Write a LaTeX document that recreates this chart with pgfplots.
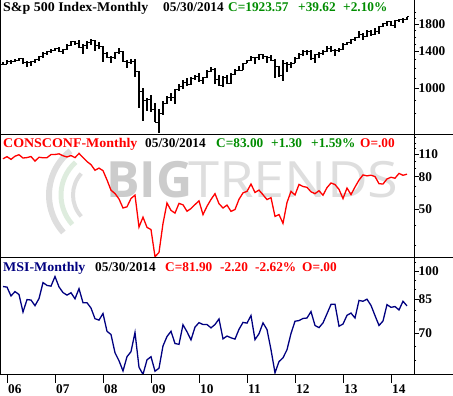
\documentclass[border=0pt]{standalone}
\usepackage{fontspec}
\setmainfont{Liberation Serif}
\setsansfont{Open Sans}
\usepackage{pgfplots}
\pgfplotsset{compat=1.18}
\usepackage{pgfplotstable}

\definecolor{upgreen}{RGB}{0,140,0}
\definecolor{msinavy}{RGB}{0,0,128}
\definecolor{wmA}{RGB}{204,204,204}
\definecolor{wmB}{RGB}{222,222,222}
\definecolor{wmG}{RGB}{222,236,222}

\newcommand\tf{\bfseries\fontsize{13.3}{15}\selectfont}
\newcommand\wide[1]{\scalebox{1.05}[1]{#1}}

\pgfdeclareplotmark{ohlcL}{\pgfpathmoveto{\pgfqpoint{-2.2pt}{0pt}}\pgfpathlineto{\pgfqpoint{0pt}{0pt}}\pgfusepathqstroke}
\pgfdeclareplotmark{ohlcR}{\pgfpathmoveto{\pgfqpoint{0pt}{0pt}}\pgfpathlineto{\pgfqpoint{2.2pt}{0pt}}\pgfusepathqstroke}

\pgfplotstableread{
i o h l c
-1 1249 1275 1246 1248
0 1248 1295 1245 1280
1 1280 1297 1253 1281
2 1281 1310 1268 1295
3 1295 1326 1280 1311
4 1311 1326 1245 1270
5 1270 1290 1220 1270
6 1270 1280 1225 1277
7 1277 1310 1260 1304
8 1304 1340 1290 1336
9 1336 1390 1325 1378
10 1378 1407 1360 1401
11 1401 1431 1385 1418
12 1418 1441 1403 1438
13 1438 1462 1389 1407
14 1407 1438 1364 1421
15 1421 1499 1416 1482
16 1482 1535 1476 1531
17 1531 1541 1484 1503
18 1503 1556 1452 1455
19 1455 1504 1370 1474
20 1474 1539 1439 1527
21 1527 1576 1489 1549
22 1549 1553 1406 1481
23 1481 1523 1435 1468
24 1468 1471 1270 1379
25 1379 1396 1316 1331
26 1331 1341 1257 1323
27 1323 1397 1314 1386
28 1386 1440 1374 1400
29 1400 1405 1272 1280
30 1280 1292 1200 1267
31 1267 1313 1248 1283
32 1283 1303 1107 1166
33 1166 1168 840 969
34 969 1007 741 896
35 896 918 816 903
36 903 943 805 826
37 826 876 735 735
38 735 832 667 798
39 798 888 784 873
40 873 930 866 919
41 919 956 888 919
42 919 996 869 987
43 987 1039 978 1021
44 1021 1080 992 1057
45 1057 1101 1020 1036
46 1036 1113 1029 1096
47 1096 1130 1085 1115
48 1115 1150 1071 1074
49 1074 1112 1045 1104
50 1104 1181 1101 1169
51 1169 1220 1157 1187
52 1187 1206 1040 1089
53 1089 1131 1029 1031
54 1031 1120 1011 1102
55 1102 1129 1040 1049
56 1049 1149 1040 1141
57 1141 1196 1131 1183
58 1183 1227 1173 1181
59 1181 1263 1181 1258
60 1258 1302 1257 1286
61 1286 1345 1284 1327
62 1327 1333 1249 1326
63 1326 1370 1294 1364
64 1364 1371 1312 1345
65 1345 1346 1258 1321
66 1321 1356 1282 1292
67 1292 1308 1101 1219
68 1219 1230 1114 1131
69 1131 1293 1075 1253
70 1253 1277 1159 1247
71 1247 1270 1202 1258
72 1258 1333 1258 1312
73 1312 1378 1312 1366
74 1366 1419 1341 1408
75 1408 1422 1358 1398
76 1398 1415 1292 1310
77 1310 1364 1267 1362
78 1362 1392 1326 1379
79 1379 1426 1355 1407
80 1407 1475 1397 1441
81 1441 1470 1403 1412
82 1412 1434 1343 1416
83 1416 1448 1398 1426
84 1426 1510 1426 1498
85 1498 1530 1485 1515
86 1515 1570 1501 1569
87 1569 1598 1536 1598
88 1598 1687 1581 1631
89 1631 1654 1560 1606
90 1606 1698 1604 1686
91 1686 1710 1627 1633
92 1633 1730 1633 1682
93 1682 1776 1646 1757
94 1757 1814 1747 1806
95 1806 1849 1768 1848
96 1848 1851 1770 1783
97 1783 1868 1738 1859
98 1859 1884 1834 1872
99 1872 1897 1815 1884
100 1884 1925 1860 1924
}\spx

\pgfplotstableread{
i v
-1 103.6
0 106.8
1 102.7
2 107.5
3 109.8
4 104.7
5 105.4
6 107.0
7 100.2
8 105.9
9 105.1
10 105.3
11 110.0
12 110.2
13 111.2
14 108.2
15 106.3
16 108.5
17 105.3
18 111.9
19 105.6
20 99.5
21 95.2
22 87.8
23 90.6
24 87.3
25 76.4
26 65.9
27 62.8
28 58.1
29 51.0
30 51.9
31 58.5
32 61.4
33 38.8
34 44.7
35 38.6
36 37.4
37 25.3
38 26.9
39 40.8
40 54.8
41 49.3
42 47.4
43 54.5
44 53.4
45 48.7
46 50.6
47 53.6
48 56.5
49 46.4
50 52.3
51 57.7
52 62.7
53 54.3
54 51.0
55 53.2
56 48.6
57 49.9
58 57.8
59 63.4
60 64.8
61 72.0
62 63.8
63 66.0
64 61.7
65 57.6
66 59.2
67 45.2
68 46.4
69 40.9
70 55.2
71 64.8
72 61.5
73 71.6
74 69.5
75 68.7
76 64.4
77 62.7
78 65.4
79 61.3
80 68.4
81 73.1
82 71.5
83 66.7
84 58.4
85 68.0
86 61.9
87 69.0
88 76.2
89 82.1
90 81.0
91 81.8
92 80.2
93 72.4
94 72.0
95 77.5
96 79.4
97 78.3
98 83.9
99 81.7
100 83.0
}\conf

\pgfplotstableread{
i v
-1 91.5
0 91.2
1 86.7
2 88.9
3 87.4
4 79.1
5 84.9
6 84.7
7 82.0
8 85.4
9 93.6
10 92.1
11 91.7
12 96.9
13 91.3
14 88.4
15 87.1
16 88.3
17 85.3
18 90.4
19 83.4
20 83.4
21 80.9
22 76.1
23 75.5
24 78.4
25 70.8
26 69.5
27 62.6
28 59.8
29 56.4
30 61.2
31 63.0
32 70.3
33 57.6
34 55.3
35 60.1
36 61.2
37 56.3
38 57.3
39 65.1
40 68.7
41 70.8
42 66.0
43 65.7
44 73.5
45 70.6
46 67.4
47 72.5
48 74.4
49 73.6
50 73.6
51 72.2
52 73.6
53 76.0
54 67.8
55 68.9
56 68.2
57 67.7
58 71.6
59 74.5
60 74.2
61 77.5
62 67.5
63 69.8
64 74.3
65 71.5
66 63.7
67 55.8
68 59.5
69 60.8
70 63.7
71 69.9
72 75.0
73 75.3
74 76.2
75 76.4
76 79.3
77 73.2
78 72.3
79 74.3
80 78.3
81 82.6
82 82.7
83 72.9
84 73.8
85 77.6
86 78.6
87 76.4
88 84.5
89 84.1
90 85.1
91 82.1
92 77.5
93 73.2
94 75.1
95 82.5
96 81.2
97 81.6
98 80.0
99 84.1
100 81.9
}\msi

\pgfplotsset{
  panel/.style={
    scale only axis, width=413.5pt,
    xmin=-1.625, xmax=101.75,
    axis line style={line width=0.8pt},
    ytick pos=right, yticklabel pos=right,
    tick align=outside,
    major tick length=4.5pt, minor tick length=2.3pt,
    every tick/.style={black, line width=0.7pt},
    xtick=\empty,
    yticklabel style={font=\tf, anchor=west, inner sep=0pt},
    anchor=south west,
  }
}

\begin{document}
\begin{tikzpicture}
\path[use as bounding box] (0pt,0pt) rectangle (453pt,396pt);

% watermark
\draw[wmB, line width=6pt] (105pt,201pt) ++(128:56pt) arc[start angle=128, end angle=222, radius=56pt];
\draw[wmG, line width=5pt] (105pt,201pt) ++(132:44pt) arc[start angle=132, end angle=222, radius=44pt];
\draw[wmB, line width=4pt] (105pt,201pt) ++(138:32pt) arc[start angle=138, end angle=222, radius=32pt];
\node[anchor=base west, inner sep=0pt, text=wmA, font=\sffamily\bfseries\fontsize{50}{50}\selectfont] at (106pt,198pt) {BIG};
\node[anchor=base west, inner sep=0pt, text=wmB, font=\sffamily\fontsize{50}{50}\selectfont] at (188pt,198pt) {\scalebox{1.12}[1]{TRENDS}};

% panel 1 (no top frame line)
\begin{axis}[panel, ymode=log, at={(0.5pt,262pt)}, height=134pt,
  axis x line*=bottom, axis y line*=right, axis line style={-, line width=0.8pt},
  ymin=660, ymax=2242,
  ytick={1000,1400,1800}, yticklabels={1000,1400,1800},
  minor ytick={800,900,1100,1200,1300,1500,1600,1700,1900,2000}]
\addplot[black, only marks, mark=ohlcR, mark options={line width=0.9pt},
  error bars/y dir=both, error bars/y explicit, error bars/error mark=none,
  error bars/error bar style={line width=1.05pt, black}]
  table[x=i, y=c, y error plus expr=\thisrow{h}-\thisrow{c}, y error minus expr=\thisrow{c}-\thisrow{l}] {\spx};
\addplot[black, only marks, mark=ohlcL, mark options={line width=0.9pt}]
  table[x=i, y=o] {\spx};
\end{axis}

% panel 2
\begin{axis}[panel, ymode=log, at={(0.5pt,139pt)}, height=123pt,
  ymin=25.2, ymax=148,
  ytick={50,80,110}, yticklabels={50,80,110},
  minor ytick={30,40,60,70,90,100,120,130,140}]
\addplot[red, line width=1.3pt] table[x=i, y=v] {\conf};
\end{axis}

% panel 3
\begin{axis}[panel, ymode=log, at={(0.5pt,21.3pt)}, height=117.7pt,
  ymin=55.2, ymax=108.4,
  ytick={70,85,100}, yticklabels={70,85,100},
  minor ytick={60,65,75,80,90,95,105}]
\addplot[msinavy, line width=1.3pt] table[x=i, y=v] {\msi};
\end{axis}

% x ticks
\begin{axis}[scale only axis, width=413.5pt, height=117.7pt, at={(0.5pt,21.3pt)}, anchor=south west,
  xmin=-1.625, xmax=101.75, ymin=0, ymax=1,
  hide y axis, axis x line*=bottom, axis line style={-, line width=0.8pt},
  xtick={0,12,24,36,48,60,72,84,96},
  xticklabels={06,07,08,09,10,11,12,13,14},
  major tick length=8pt, tick align=outside,
  every tick/.style={black, line width=0.7pt},
  xticklabel style={font=\tf, anchor=north west, inner sep=0pt, xshift=1pt, yshift=-2pt}]
\end{axis}

% frame and separators
\draw[line width=0.8pt] (0.5pt,21.3pt) -- (0.5pt,396pt);
\draw[line width=0.8pt] (0pt,262pt) -- (453pt,262pt);
\draw[line width=0.8pt] (0pt,139pt) -- (453pt,139pt);
\draw[line width=0.8pt] (0pt,21.3pt) -- (453pt,21.3pt);

% titles row 1
\node[anchor=base west, inner sep=0pt, font=\tf] at (3pt,384pt) {\wide{S\&p 500 Index-Monthly}};
\node[anchor=base west, inner sep=0pt, font=\tf] at (163pt,384pt) {05/30/2014};
\node[anchor=base west, inner sep=0pt, font=\tf, text=upgreen] at (228pt,384pt) {C=1923.57};
\node[anchor=base west, inner sep=0pt, font=\tf, text=upgreen] at (298pt,384pt) {+39.62};
\node[anchor=base west, inner sep=0pt, font=\tf, text=upgreen] at (343pt,384pt) {+2.10\%};
% row 2
\node[anchor=base west, inner sep=0pt, font=\tf, text=red] at (3pt,248pt) {\wide{CONSCONF-Monthly}};
\node[anchor=base west, inner sep=0pt, font=\tf] at (145pt,248pt) {05/30/2014};
\node[anchor=base west, inner sep=0pt, font=\tf, text=upgreen] at (216pt,248pt) {C=83.00};
\node[anchor=base west, inner sep=0pt, font=\tf, text=upgreen] at (271pt,248pt) {+1.30};
\node[anchor=base west, inner sep=0pt, font=\tf, text=upgreen] at (311pt,248pt) {+1.59\%};
\node[anchor=base west, inner sep=0pt, font=\tf, text=red] at (360pt,248pt) {O=.00};
% row 3
\node[anchor=base west, inner sep=0pt, font=\tf, text=msinavy] at (3pt,124pt) {\wide{MSI-Monthly}};
\node[anchor=base west, inner sep=0pt, font=\tf] at (95pt,124pt) {05/30/2014};
\node[anchor=base west, inner sep=0pt, font=\tf, text=red] at (165pt,124pt) {C=81.90};
\node[anchor=base west, inner sep=0pt, font=\tf, text=red] at (220pt,124pt) {-2.20};
\node[anchor=base west, inner sep=0pt, font=\tf, text=red] at (255pt,124pt) {-2.62\%};
\node[anchor=base west, inner sep=0pt, font=\tf, text=red] at (302pt,124pt) {O=.00};
\end{tikzpicture}
\end{document}
